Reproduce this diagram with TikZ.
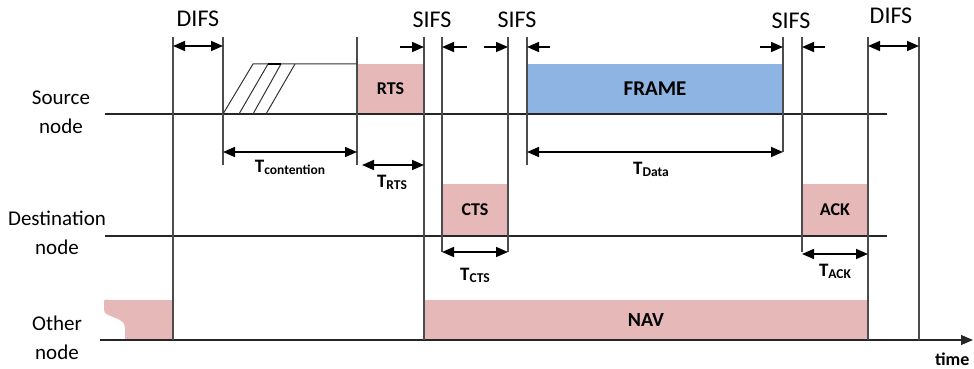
\documentclass[tikz,border=0pt]{standalone}
\usepackage{fontspec}
\setmainfont{Carlito}
\usetikzlibrary{arrows.meta}

\definecolor{navpink}{RGB}{230,185,184}
\definecolor{frameblue}{RGB}{141,180,226}

\newcommand{\durlabel}[1]{T\raisebox{-2pt}{\fontsize{13.5}{14}\selectfont #1}}

\begin{document}
\begin{tikzpicture}[x=1pt,y=-1pt,
			axis line/.style={draw=black!85,line width=1.2pt},
			bound line/.style={draw=black!70,line width=1.1pt},
			span arrow/.style={{Triangle[length=12pt,width=10pt]}-{Triangle[length=12pt,width=10pt]},line width=1.6pt},
			ifs arrow/.style={-{Triangle[length=12pt,width=10pt]},line width=1.6pt},
			pink box/.style={fill=navpink,inner sep=0pt,outer sep=0pt,font=\fontsize{18}{19}\selectfont\bfseries},
			blue box/.style={fill=frameblue,inner sep=0pt,outer sep=0pt,font=\fontsize{21}{22}\selectfont\bfseries},
			ifs label/.style={font=\fontsize{24}{26}\selectfont},
			row label/.style={font=\fontsize{21}{29}\selectfont,align=center},
			dur label/.style={font=\fontsize{19}{20}\selectfont\bfseries}
			]
			
			\useasboundingbox (0,0) rectangle (974,369);
			
			% frames
			\node[pink box,minimum width=67pt,minimum height=50pt] (rts) at (390.5,89) {RTS};
			\node[blue box,minimum width=256pt,minimum height=50pt] (frame) at (655,89) {FRAME};
			\node[pink box,minimum width=66pt,minimum height=52pt] (cts) at (475,210) {CTS};
			\node[pink box,minimum width=66pt,minimum height=52pt] (ack) at (835,210) {ACK};
			\node[pink box,minimum width=444pt,minimum height=40pt,font=\fontsize{20}{21}\selectfont\bfseries] (nav) at (646,320) {NAV};
			\fill[navpink] (104,302) .. controls (104,298) and (106,300) .. (110,300) -- (173,300) -- (173,340)
				-- (125,340) -- (125,328) .. controls (125,316) and (104,318) .. (104,310) -- cycle;
			
			% row names
			\node[row label] (src) at (61,112) {Source\\node};
			\node[row label] (dst) at (57,233) {Destination\\node};
			\node[row label] (oth) at (57,338) {Other\\node};
			
			% time lines
			\coordinate (src start) at (105,114);
			\coordinate (src end) at (887,114);
			\coordinate (dst start) at (105,236);
			\coordinate (dst end) at (887,236);
			\coordinate (oth start) at (100,340);
			\coordinate (oth end) at (973,340);
			\draw[axis line] (src start) -- (src end);
			\draw[axis line] (dst start) -- (dst end);
			\draw[axis line,-{Triangle[length=12pt,width=10pt]}] (oth start) -- (oth end);
			\node[font=\fontsize{18}{19}\selectfont\bfseries,anchor=base west,inner sep=1pt] (time) at (934,365) {time};
			
			% boundaries
			\foreach \nm/\px/\py in {a/173/340,b/223/165,c/357/165,d/424/340,e/442/252,f/508/252,g/527/165,h/783/152,i/802/252,j/868/340,k/919/340} {
				\coordinate (\nm top) at (\px,37);
				\coordinate (\nm bot) at (\px,\py);
				\draw[bound line] (\nm top) -- (\nm bot);
			}
			
			% contention window
			\draw[draw=black!80,line width=1pt] (223,114) -- (253,64) -- (357,64);
			\draw[draw=black!80,line width=1pt] (239,114) -- (268,64);
			\draw[draw=black!80,line width=1pt] (253,114) -- (281,64);
			\draw[draw=black!80,line width=1pt] (266,114) -- (295,64);
			\draw[line width=2pt] (268,64) -- (281,64);
			
			% interframe spaces
			\draw[span arrow] (173,46) -- (223,46);
			\draw[span arrow] (868,46) -- (919,46);
			\node[ifs label] (difs1) at (198,19) {DIFS};
			\node[ifs label] (difs2) at (891,16) {DIFS};
			\node[ifs label] (sifs1) at (432,20) {SIFS};
			\node[ifs label] (sifs2) at (517,20) {SIFS};
			\node[ifs label] (sifs3) at (791,21) {SIFS};
			\draw[ifs arrow] (400,47) -- (424,47);
			\draw[ifs arrow] (467,47) -- (442,47);
			\draw[ifs arrow] (484,47) -- (508,47);
			\draw[ifs arrow] (550,47) -- (527,47);
			\draw[ifs arrow] (760,47) -- (783,47);
			\draw[ifs arrow] (825,47) -- (802,47);
			
			% durations
			\draw[span arrow] (223,152) -- (357,152);
			\draw[span arrow] (362,165) -- (424,165);
			\draw[span arrow] (527,152) -- (783,152);
			\draw[span arrow] (442,252) -- (508,252);
			\draw[span arrow] (802,254) -- (868,254);
			\node[dur label] (tcont) at (290,167) {\durlabel{contention}};
			\node[dur label] (trts) at (392,182) {\durlabel{RTS}};
			\node[dur label] (tdata) at (651,169) {\durlabel{Data}};
			\node[dur label] (tcts) at (475,275) {\durlabel{CTS}};
			\node[dur label] (tack) at (835,271) {\durlabel{ACK}};
			
\end{tikzpicture}
\end{document}
